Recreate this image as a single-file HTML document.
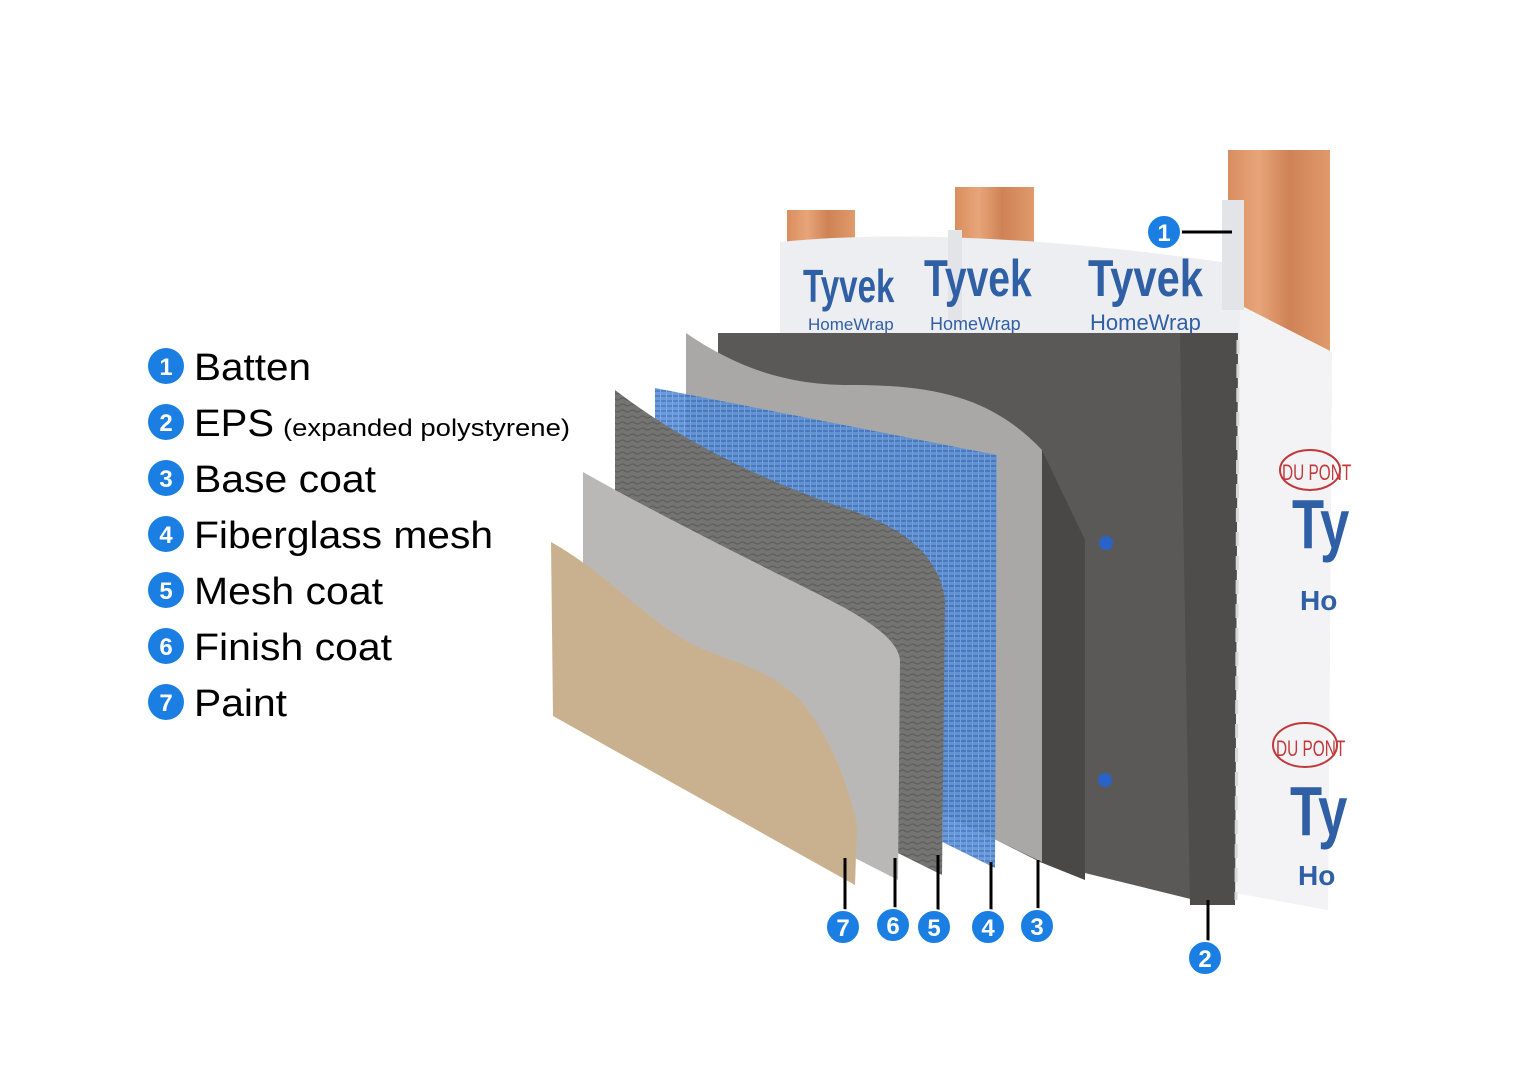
<!DOCTYPE html>
<html><head><meta charset="utf-8"><style>
html,body{margin:0;padding:0;background:#fff;width:1520px;height:1080px;overflow:hidden}
svg{display:block}
</style></head><body>
<svg width="1520" height="1080" viewBox="0 0 1520 1080" xmlns="http://www.w3.org/2000/svg" font-family="Liberation Sans, Arial, sans-serif">
<defs>
<linearGradient id="wood" x1="0" x2="1" y1="0" y2="0">
<stop offset="0" stop-color="#d98d5e"/><stop offset="0.3" stop-color="#e7a57a"/><stop offset="0.6" stop-color="#cf8255"/><stop offset="1" stop-color="#e09a6c"/>
</linearGradient>
<pattern id="mesh" width="6" height="5" patternUnits="userSpaceOnUse">
<rect width="6" height="5" fill="#5b8fd6"/><rect y="0" width="6" height="2" fill="#3f73c2"/><rect x="0" width="1" height="5" fill="#6d9ee0"/>
</pattern>
<pattern id="wave" width="10" height="6" patternUnits="userSpaceOnUse">
<rect width="10" height="6" fill="#747473"/><path d="M0 3 Q2.5 1 5 3 T10 3" stroke="#5e5e5e" stroke-width="1.2" fill="none"/>
</pattern>
</defs>

<rect x="787" y="210" width="68" height="40" fill="url(#wood)"/>
<rect x="955" y="187" width="79" height="70" fill="url(#wood)"/>
<rect x="1228" y="150" width="102" height="215" fill="url(#wood)"/>

<path d="M780,242 C900,230 1050,238 1222,262 L1240,305 L1332,352 L1328,910 L1230,892 L1230,420 L780,420 Z" fill="#eceef1"/>
<path d="M1240,305 L1332,352 L1328,910 L1230,892 Z" fill="#f3f3f5"/>
<rect x="1222" y="200" width="22" height="110" fill="#e2e4e8"/>
<rect x="948" y="230" width="14" height="90" fill="#e2e4e8"/>
<g fill="#2f5fa5" font-weight="bold">
<text x="803" y="302" font-size="46" transform="translate(803,302) scale(0.72,1) translate(-803,-302)">Tyvek</text>
<text x="808" y="330" font-size="17" font-weight="normal">HomeWrap</text>
<text x="924" y="296" font-size="52" transform="translate(924,296) scale(0.75,1) translate(-924,-296)">Tyvek</text>
<text x="930" y="330" font-size="18" font-weight="normal">HomeWrap</text>
<text x="1088" y="296" font-size="52" transform="translate(1088,296) scale(0.8,1) translate(-1088,-296)">Tyvek</text>
<text x="1090" y="330" font-size="22" font-weight="normal">HomeWrap</text>
<text x="1292" y="548" font-size="70" transform="translate(1292,548) scale(0.75,1) translate(-1292,-548)">Ty</text>
<text x="1300" y="610" font-size="28">Ho</text>
<text x="1290" y="835" font-size="70" transform="translate(1290,835) scale(0.75,1) translate(-1290,-835)">Ty</text>
<text x="1298" y="885" font-size="28">Ho</text>
</g>
<g fill="none" stroke="#c0393b" stroke-width="2">
<ellipse cx="1310" cy="470" rx="30" ry="20"/><ellipse cx="1305" cy="745" rx="32" ry="22"/>
</g>
<text x="1282" y="480" font-size="22" fill="#c0393b" transform="translate(1282,480) scale(0.7,1) translate(-1282,-480)">DU PONT</text>
<text x="1276" y="756" font-size="22" fill="#c0393b" transform="translate(1276,756) scale(0.7,1) translate(-1276,-756)">DU PONT</text>

<path d="M718,333 L1238,333 L1235,905 L1215,905 L1040,862 L718,700 Z" fill="#5b5958"/>
<path d="M1180,333 L1238,333 L1235,905 L1190,905 Z" fill="#4f4d4c"/>
<line x1="1238" y1="340" x2="1236" y2="900" stroke="#d8d8d8" stroke-width="3" stroke-dasharray="14,10"/>
<circle cx="1106" cy="543" r="7" fill="#2a63c7"/><circle cx="1105" cy="780" r="7" fill="#2a63c7"/>
<path d="M1042,450 L1085,540 L1085,880 L1040,862 Z" fill="#4a4847"/>

<path d="M686,333 C740,370 790,385 850,385 C930,385 990,395 1042,450 L1042,862 L686,690 Z" fill="#a9a8a6"/>
<path d="M655,388 L997,455 L995,868 L655,700 Z" fill="url(#mesh)" opacity="0.9"/>
<path d="M615,390 C680,440 760,480 850,510 C910,530 940,560 945,600 L942,875 L615,712 Z" fill="url(#wave)"/>
<path d="M583,472 C650,510 740,555 820,595 C870,620 898,640 900,660 L898,880 L583,720 Z" fill="#b9b8b6"/>
<path d="M551,542 C610,575 650,625 700,648 C740,665 770,670 800,700 C830,735 850,790 857,825 L855,885 L553,716 Z" fill="#c9b18f"/>

<g stroke="#000" stroke-width="3">
<line x1="845" y1="858" x2="845" y2="912"/>
<line x1="895" y1="858" x2="895" y2="910"/>
<line x1="938" y1="855" x2="938" y2="912"/>
<line x1="991" y1="862" x2="991" y2="912"/>
<line x1="1038" y1="860" x2="1038" y2="910"/>
<line x1="1208" y1="900" x2="1208" y2="942"/>
<line x1="1180" y1="232" x2="1232" y2="232"/>
</g>
<g font-weight="bold" font-size="24" text-anchor="middle" fill="#fff">
<g><circle cx="843" cy="927" r="17" fill="#1a7ee2" stroke="#fff" stroke-width="2"/><text x="843" y="936">7</text></g>
<g><circle cx="893" cy="925" r="17" fill="#1a7ee2" stroke="#fff" stroke-width="2"/><text x="893" y="934">6</text></g>
<g><circle cx="934" cy="927" r="17" fill="#1a7ee2" stroke="#fff" stroke-width="2"/><text x="934" y="936">5</text></g>
<g><circle cx="988" cy="927" r="17" fill="#1a7ee2" stroke="#fff" stroke-width="2"/><text x="988" y="936">4</text></g>
<g><circle cx="1037" cy="926" r="17" fill="#1a7ee2" stroke="#fff" stroke-width="2"/><text x="1037" y="935">3</text></g>
<g><circle cx="1205" cy="958" r="17" fill="#1a7ee2" stroke="#fff" stroke-width="2"/><text x="1205" y="967">2</text></g>
<g><circle cx="1164" cy="232" r="17" fill="#1a7ee2" stroke="#fff" stroke-width="2"/><text x="1164" y="241">1</text></g>
</g>

<g font-weight="bold" font-size="24" text-anchor="middle" fill="#fff">
<circle cx="166" cy="366" r="18" fill="#1a7ee2"/><text x="166" y="375">1</text>
<circle cx="166" cy="422" r="18" fill="#1a7ee2"/><text x="166" y="431">2</text>
<circle cx="166" cy="478" r="18" fill="#1a7ee2"/><text x="166" y="487">3</text>
<circle cx="166" cy="534" r="18" fill="#1a7ee2"/><text x="166" y="543">4</text>
<circle cx="166" cy="590" r="18" fill="#1a7ee2"/><text x="166" y="599">5</text>
<circle cx="166" cy="646" r="18" fill="#1a7ee2"/><text x="166" y="655">6</text>
<circle cx="166" cy="702" r="18" fill="#1a7ee2"/><text x="166" y="711">7</text>
</g>
<g font-size="38" fill="#000" lengthAdjust="spacingAndGlyphs">
<text x="194" y="380" textLength="117" lengthAdjust="spacingAndGlyphs">Batten</text>
<text x="194" y="436" textLength="80" lengthAdjust="spacingAndGlyphs">EPS</text>
<text x="283" y="436" font-size="24" textLength="287" lengthAdjust="spacingAndGlyphs">(expanded polystyrene)</text>
<text x="194" y="492" textLength="182" lengthAdjust="spacingAndGlyphs">Base coat</text>
<text x="194" y="548" textLength="299" lengthAdjust="spacingAndGlyphs">Fiberglass mesh</text>
<text x="194" y="604" textLength="189" lengthAdjust="spacingAndGlyphs">Mesh coat</text>
<text x="194" y="660" textLength="198" lengthAdjust="spacingAndGlyphs">Finish coat</text>
<text x="194" y="716" textLength="93" lengthAdjust="spacingAndGlyphs">Paint</text>
</g>
</svg>
</body></html>
